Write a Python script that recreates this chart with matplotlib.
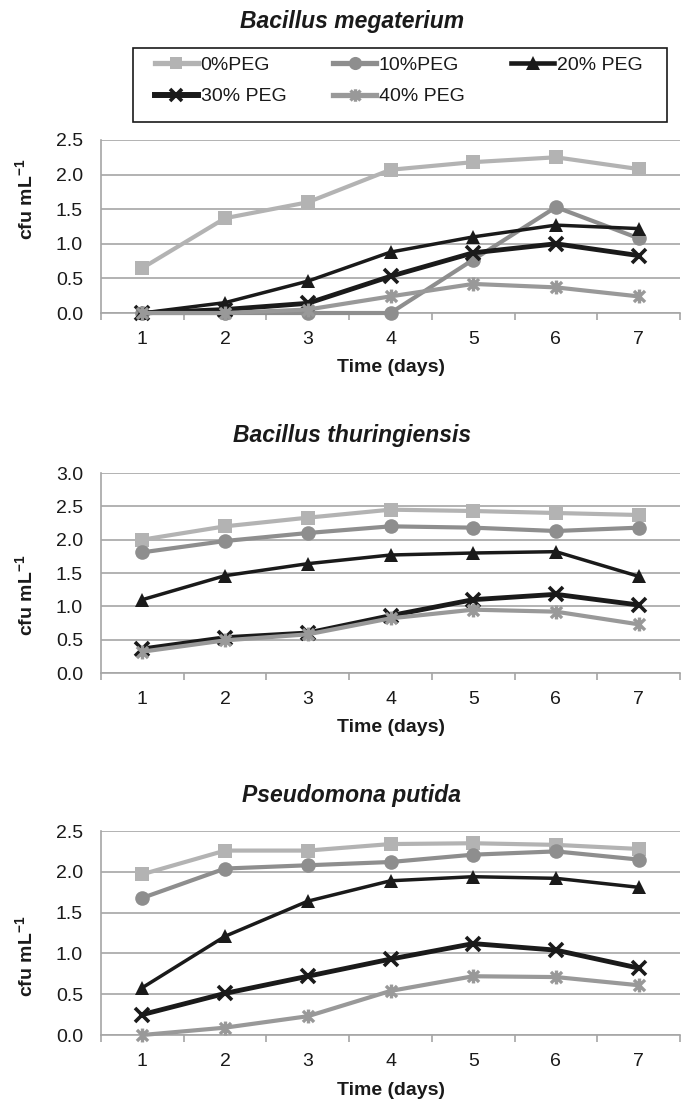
import matplotlib
matplotlib.use("Agg")
import matplotlib.pyplot as plt
from matplotlib.path import Path
from matplotlib.lines import Line2D
from matplotlib.patches import Rectangle

plt.rcParams['font.family'] = ['Liberation Sans', 'DejaVu Sans']
plt.rcParams['mathtext.fontset'] = 'custom'
plt.rcParams['mathtext.rm'] = 'Liberation Sans'
plt.rcParams['mathtext.bf'] = 'Liberation Sans:bold'

# ---------------- data ----------------
days = [1, 2, 3, 4, 5, 6, 7]
series_labels = ['0%PEG', '10%PEG', '20% PEG', '30% PEG', '40% PEG']
titles = ['Bacillus megaterium', 'Bacillus thuringiensis', 'Pseudomona putida']
y_max = [2.5, 3.0, 2.5]

megaterium_0 = [0.65, 1.37, 1.60, 2.07, 2.18, 2.25, 2.08]
megaterium_10 = [0.00, 0.00, 0.00, 0.00, 0.77, 1.53, 1.08]
megaterium_20 = [0.00, 0.15, 0.46, 0.88, 1.10, 1.27, 1.22]
megaterium_30 = [0.00, 0.05, 0.14, 0.53, 0.87, 1.00, 0.83]
megaterium_40 = [0.00, 0.00, 0.05, 0.24, 0.42, 0.37, 0.24]

thuringiensis_0 = [2.00, 2.20, 2.33, 2.45, 2.43, 2.40, 2.37]
thuringiensis_10 = [1.81, 1.98, 2.10, 2.20, 2.18, 2.13, 2.18]
thuringiensis_20 = [1.10, 1.46, 1.64, 1.77, 1.80, 1.82, 1.45]
thuringiensis_30 = [0.36, 0.53, 0.60, 0.86, 1.10, 1.18, 1.02]
thuringiensis_40 = [0.32, 0.49, 0.58, 0.82, 0.95, 0.92, 0.73]

putida_0 = [1.97, 2.26, 2.26, 2.34, 2.35, 2.33, 2.28]
putida_10 = [1.68, 2.04, 2.08, 2.12, 2.21, 2.25, 2.15]
putida_20 = [0.58, 1.21, 1.64, 1.89, 1.94, 1.92, 1.81]
putida_30 = [0.25, 0.51, 0.72, 0.93, 1.12, 1.04, 0.82]
putida_40 = [0.00, 0.09, 0.23, 0.54, 0.72, 0.71, 0.61]

panels = [
    [megaterium_0, megaterium_10, megaterium_20, megaterium_30, megaterium_40],
    [thuringiensis_0, thuringiensis_10, thuringiensis_20, thuringiensis_30, thuringiensis_40],
    [putida_0, putida_10, putida_20, putida_30, putida_40],
]

# ---------------- styles ----------------
star = Path([(-1, -1), (1, 1), (-1, 1), (1, -1), (0, -1.25), (0, 1.25)],
            [Path.MOVETO, Path.LINETO, Path.MOVETO, Path.LINETO, Path.MOVETO, Path.LINETO])
styles = [
    dict(color='#b3b3b3', lw=3.0, marker='s', ms=10, mew=0),
    dict(color='#8e8e8e', lw=3.0, marker='o', ms=10.5, mew=0),
    dict(color='#1a1a1a', lw=2.5, marker='^', ms=10.5, mew=0),
    dict(color='#1a1a1a', lw=3.5, marker='x', ms=9.5, mew=2.6),
    dict(color='#999999', lw=3.0, marker=star, ms=10, mew=2.4),
]

W, H = 688, 1102
fig = plt.figure(figsize=(W / 100, H / 100), dpi=100)

def fx(px):
    return px / W

def fy(py):
    return 1 - py / H

# layout in pixels
ax_px = [(140, 313), (473, 673), (831, 1035)]   # (top, bottom)
title_base = [28, 442, 802]
xlabel_base = [372, 732, 1095]
ylabel_center = [199, 595, 956]
left_px, right_px = 101, 680

GRID = '#a6a6a6'
TXT = '#1a1a1a'
FS = 14
for i, (top, bot) in enumerate(ax_px):
    ax = fig.add_axes([fx(left_px), fy(bot), fx(right_px - left_px), (bot - top) / H])
    for data, st, lab in zip(panels[i], styles, series_labels):
        ax.plot(days, data, color=st['color'], lw=st['lw'], marker=st['marker'],
                ms=st['ms'], mew=st['mew'], mec=st['color'], mfc=st['color'],
                label=lab, clip_on=False, zorder=3)
    ax.set_xlim(0.5, 7.5)
    ax.set_ylim(0, y_max[i])
    n = int(round(y_max[i] / 0.5))
    ax.set_yticks([k * 0.5 for k in range(n + 1)])
    ax.set_yticklabels([f'{k * 0.5:.1f}' for k in range(n + 1)])
    ax.set_xticks(days)
    ax.set_xticks([d + 0.5 for d in range(0, 8)], minor=True)
    ax.tick_params(axis='x', which='major', length=0, pad=13, labelsize=FS, colors=TXT)
    ax.tick_params(axis='x', which='minor', length=5, width=1.2, color=GRID, direction='out')
    ax.tick_params(axis='y', which='major', length=0, pad=13, labelsize=FS, colors=TXT)
    ax.grid(axis='y', color=GRID, lw=1.2, zorder=0)
    ax.set_axisbelow(True)
    for s in ['top', 'right']:
        ax.spines[s].set_visible(False)
    for s in ['left', 'bottom']:
        ax.spines[s].set_color(GRID)
        ax.spines[s].set_linewidth(1.2)
    fig.text(fx(352), fy(title_base[i]), titles[i], ha='center', va='baseline',
             fontsize=16.5, fontweight='bold', fontstyle='italic', color=TXT)
    fig.text(fx(391), fy(xlabel_base[i]), 'Time (days)', ha='center', va='baseline',
             fontsize=FS, fontweight='bold', color=TXT)
    fig.text(fx(26), fy(ylabel_center[i]), r'cfu mL$^{\mathbf{-1}}$', rotation=90,
             ha='center', va='center', fontsize=FS, fontweight='bold', color=TXT)

# legend (frame drawn separately to match the reference box)
handles = [Line2D([], [], color=st['color'], lw=st['lw'] + 0.8, marker=st['marker'],
                  ms=st['ms'] * 0.9, mew=st['mew'], mec=st['color'], mfc=st['color'])
           for st in styles]
order = [0, 3, 1, 4, 2]
leg = fig.legend([handles[k] for k in order], [series_labels[k] for k in order],
                 ncol=3, loc='center left', bbox_to_anchor=(fx(155), fy(81)),
                 frameon=False, fontsize=FS, handlelength=2.2, handletextpad=0.15,
                 numpoints=1, borderpad=0, labelspacing=0.7, columnspacing=2.4,
                 borderaxespad=0)
for t in leg.get_texts():
    t.set_color(TXT)
fig.add_artist(Rectangle((fx(133), fy(122)), fx(667) - fx(133), (122 - 48) / H,
                         transform=fig.transFigure, fill=False, edgecolor=TXT, lw=1.2))

fig.savefig('out.png', dpi=100)
